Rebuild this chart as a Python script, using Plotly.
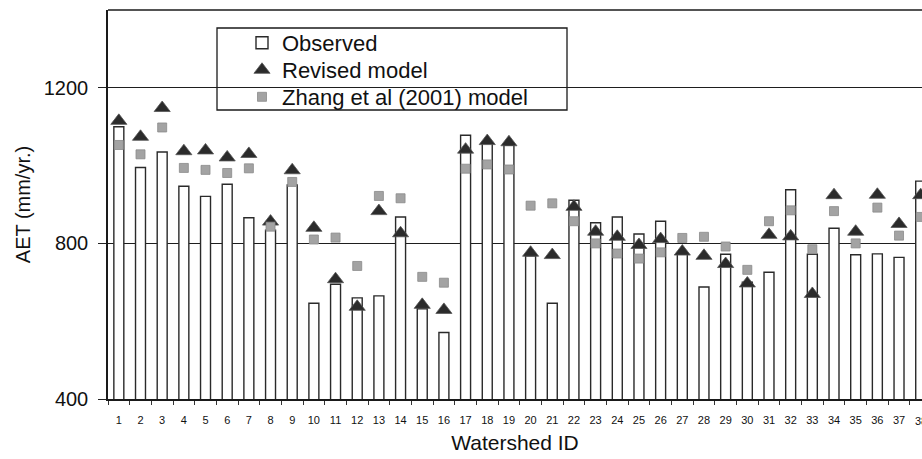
import plotly.graph_objects as go

ids = list(range(1, 39))
tick_labels = [str(i) for i in ids]
observed = [1100, 995, 1035, 947, 921, 952, 866, 834, 950, 646, 695, 660, 665, 868, 632, 571,
            1078, 1058, 1052, 768, 646, 911, 853, 868, 824, 857, 775, 688, 772, 700, 726, 938,
            772, 839, 771, 773, 764, 960]
revised = [1115, 1074, 1148, 1037, 1039, 1021, 1030, 856, 988, 840, 708, 637, 883, 826, 642, 629,
           1041, 1063, 1060, 776, 770, 894, 830, 817, 796, 811, 779, 768, 747, 697, 822, 818,
           670, 924, 830, 925, 850, 924]
zhang = [1053, 1029, 1098, 994, 989, 981, 993, 843, 958, 810, 815, 742, 922, 916, 714, 699,
         992, 1003, 990, 897, 903, 857, 800, 774, 761, 777, 814, 817, 792, 732, 857, 885,
         785, 883, 800, 892, 820, 868]

FONT = "Liberation Sans, Arial, sans-serif"

fig = go.Figure()
fig.add_trace(go.Bar(
    x=ids, y=observed, name="Observed", width=0.46, legend="legend",
    marker=dict(color="white", line=dict(color="#2a2a2a", width=1.4)),
))
fig.add_trace(go.Scatter(
    x=ids, y=revised, name="Revised model", mode="markers", legend="legend2",
    marker=dict(symbol="triangle-up", size=14, color="#2b2b2b",
                line=dict(color="#555", width=0.8)),
))
fig.add_trace(go.Scatter(
    x=ids, y=zhang, name="Zhang et al (2001) model", mode="markers", legend="legend3",
    marker=dict(symbol="square", size=9, color="#a3a3a3",
                line=dict(color="#8a8a8a", width=0.8)),
))

W, H = 922, 459
L, R, T, B = 108, 0, 10, 60
pw, ph = W - L - R, H - T - B

def px_x(p):
    return (p - L) / pw

def px_y(p):
    return (H - B - p) / ph

def leg(ypix):
    return dict(
        x=px_x(242), y=px_y(ypix), xanchor="left", yanchor="middle",
        bgcolor="rgba(0,0,0,0)", borderwidth=0,
        font=dict(size=22, family=FONT, color="#111"),
        itemwidth=30,
    )

# the last category label sits on the right edge and is cut by it, as in the source
last_label = dict(
    x=ids[-1], xref="x", y=px_y(421), yref="paper", text=tick_labels[-1],
    showarrow=False, xanchor="center", yanchor="middle",
    font=dict(size=11, family=FONT, color="#111"),
)

fig.update_layout(
    width=W, height=H,
    margin=dict(l=L, r=R, t=T, b=B),
    paper_bgcolor="white", plot_bgcolor="white",
    font=dict(family=FONT, color="#111"),
    showlegend=True,
    legend=leg(43), legend2=leg(70), legend3=leg(97),
    annotations=[last_label],
    xaxis=dict(
        range=[0.5, 38.06], tickmode="array", tickvals=ids[:-1], ticktext=tick_labels[:-1],
        ticks="", showgrid=False, zeroline=False,
        showline=True, linecolor="#1a1a1a", linewidth=1.5,
        tickfont=dict(size=11, family=FONT, color="#111"),
        ticklabelstandoff=10,
        minor=dict(tickmode="linear", tick0=0.5, dtick=1, ticks="outside",
                   ticklen=4, tickcolor="#333", tickwidth=1, showgrid=False),
        title=dict(text="Watershed ID", font=dict(size=21, family=FONT, color="#111"),
                   standoff=10),
    ),
    yaxis=dict(
        range=[400, 1400], tickmode="array", tickvals=[400, 800, 1200],
        ticks="outside", ticklen=8, tickcolor="#222", tickwidth=1.2,
        showgrid=True, gridcolor="#1e1e1e", gridwidth=1.3, zeroline=False,
        showline=True, linecolor="#1a1a1a", linewidth=1.5,
        tickfont=dict(size=20, family=FONT, color="#111"),
        ticklabelstandoff=6,
        title=dict(text="AET (mm/yr.)", font=dict(size=20, family=FONT, color="#111"),
                   standoff=8),
    ),
    shapes=[
        dict(type="line", xref="paper", yref="paper", x0=0, x1=1, y0=1, y1=1,
             line=dict(color="#1a1a1a", width=1.5), layer="above"),
        dict(type="rect", xref="paper", yref="paper",
             x0=px_x(217), x1=px_x(567), y0=px_y(110), y1=px_y(28),
             fillcolor="white", line=dict(color="#1a1a1a", width=1.3), layer="between"),
    ],
)

fig.write_html(
    "out.html",
    config={"displayModeBar": False},
    post_script="document.body.style.margin='0';document.body.style.overflow='hidden';",
)
